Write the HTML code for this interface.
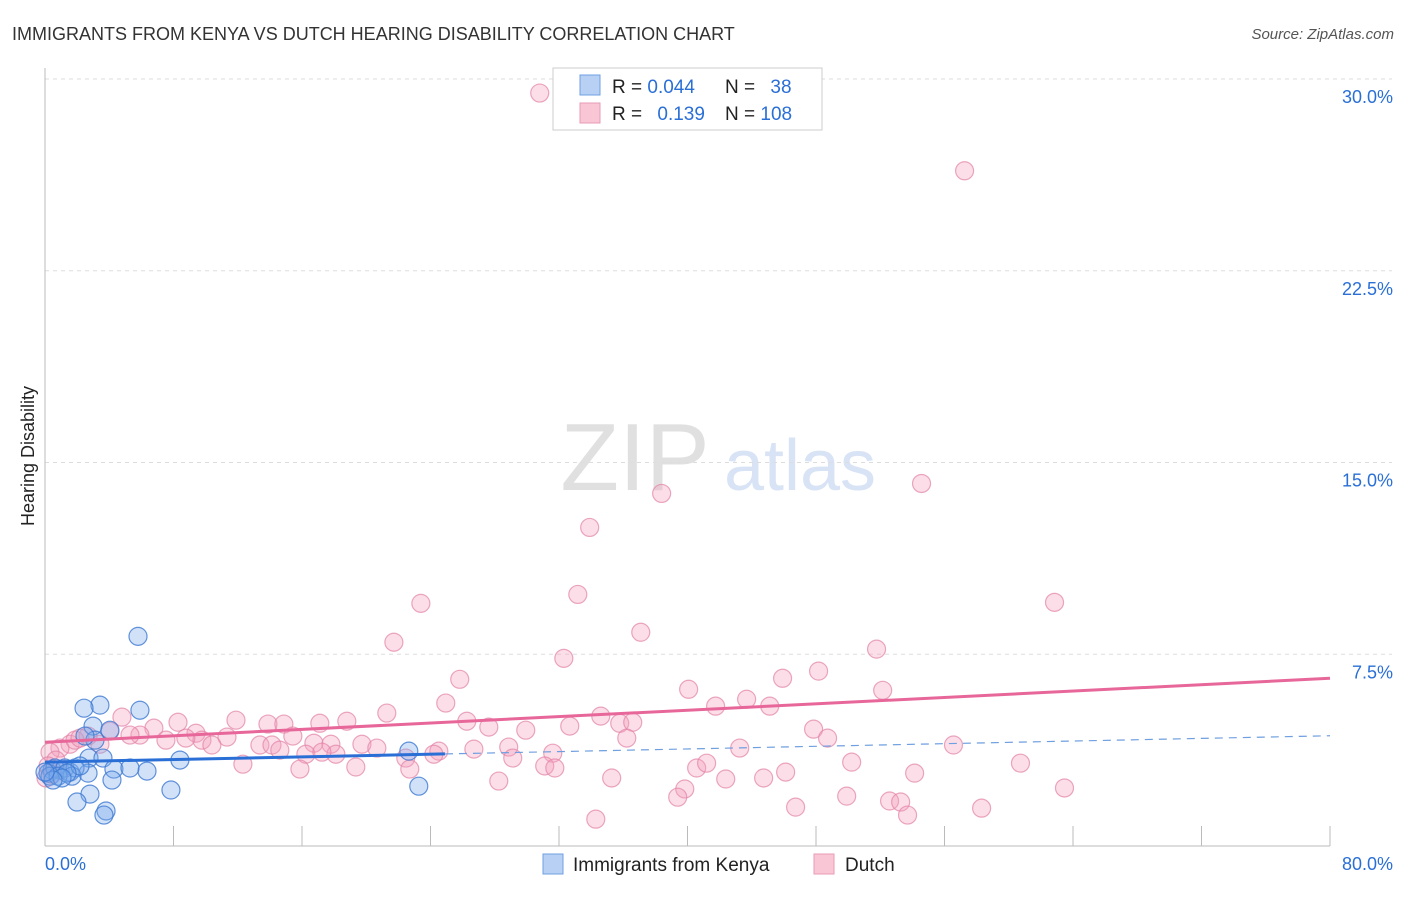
<!DOCTYPE html>
<html><head><meta charset="utf-8"><style>
body{margin:0;background:#fff;font-family:"Liberation Sans",sans-serif;}
svg text{font-family:"Liberation Sans",sans-serif;}
</style></head><body>
<svg id="chart" width="1406" height="892">
<text x="12" y="40" font-size="18" fill="#333">IMMIGRANTS FROM KENYA VS DUTCH HEARING DISABILITY CORRELATION CHART</text>
<text x="1394" y="39" font-size="15" fill="#555" font-style="italic" text-anchor="end">Source: ZipAtlas.com</text>
<g opacity="0.45">
<text x="635" y="490" font-size="96" font-family="Liberation Serif" fill="#bbb" text-anchor="middle">ZIP</text>
<text x="800" y="490" font-size="72" fill="#a9c4ea" text-anchor="middle">atlas</text>
</g>
<g id="grid"></g><g id="axes"></g><g id="points"></g><g id="trends"></g>
<text transform="translate(34,456) rotate(-90)" font-size="18" fill="#222" text-anchor="middle">Hearing Disability</text>
<g>
<rect x="553" y="68" width="269" height="62" fill="#fff" stroke="#ccc"/>
<rect x="580" y="75" width="20" height="20" fill="#b7d0f3" stroke="#6f9fe0"/>
<rect x="580" y="103" width="20" height="20" fill="#f9c6d6" stroke="#e89ab4"/>
<text x="612" y="93" font-size="19" fill="#222">R = <tspan fill="#2a6fd6">0.044</tspan></text>
<text x="725" y="93" font-size="19" fill="#222">N = <tspan fill="#2a6fd6" dx="10">38</tspan></text>
<text x="612" y="120" font-size="19" fill="#222">R = <tspan fill="#2a6fd6" dx="10">0.139</tspan></text>
<text x="725" y="120" font-size="19" fill="#222">N = <tspan fill="#2a6fd6">108</tspan></text>
</g>
<g>
<rect x="543" y="854" width="20" height="20" fill="#b7d0f3" stroke="#6f9fe0"/>
<text x="573" y="871" font-size="19" fill="#222">Immigrants from Kenya</text>
<rect x="814" y="854" width="20" height="20" fill="#f9c6d6" stroke="#e89ab4"/>
<text x="845" y="871" font-size="19" fill="#222">Dutch</text>
</g>
</svg>
<script>
const yTicks=[7.5,15,22.5,30];
const yTickLabels=["7.5%","15.0%","22.5%","30.0%"];
const xTicks=[0,8,16,24,32,40,48,56,64,72,80];
const xEndLabels=["0.0%","80.0%"];
const kenyaX=[5.79,3.42,2.43,5.91,2.99,4.04,3.11,2.49,2.74,3.61,8.40,6.35,4.29,2.68,0.93,1.56,0.44,0.19,0.62,1.24,1.87,4.17,7.84,2.80,1.99,3.80,3.67,23.27,22.65,1.68,0.31,0.81,2.18,1.37,1.06,0.50,0.0,5.29];
const kenyaY=[8.20,5.51,5.39,5.31,4.69,4.53,4.14,4.30,3.44,3.44,3.36,2.93,3.01,2.85,2.97,2.89,2.97,2.85,3.05,3.05,3.05,2.58,2.19,2.03,1.72,1.37,1.21,2.34,3.71,2.73,2.73,2.73,3.13,2.85,2.66,2.58,2.89,3.05];
const dutchX=[30.80,57.25,38.39,33.91,54.57,33.17,23.40,62.85,37.09,21.72,32.30,51.77,48.16,25.82,40.07,45.92,52.15,24.95,43.68,41.75,45.12,34.60,21.28,26.26,27.63,32.67,35.78,36.59,47.85,48.72,11.89,13.88,14.87,17.11,18.79,4.79,8.28,6.78,4.04,2.68,5.91,9.40,9.77,7.53,11.33,10.39,8.77,13.38,14.13,15.43,16.74,17.80,19.73,20.66,24.52,26.70,28.87,29.93,29.12,31.61,36.22,43.25,56.56,60.73,24.21,22.46,18.11,16.24,17.24,14.62,12.32,15.87,19.35,22.71,31.11,31.74,35.28,40.57,41.19,42.38,44.74,46.11,50.22,54.14,63.47,28.25,39.83,39.39,49.91,46.73,52.58,53.27,53.70,58.31,34.29,1.56,0.93,0.31,1.87,2.18,0.68,0.19,0.06,3.42,5.29,0.44];
const dutchY=[29.45,26.41,13.79,12.46,14.18,9.84,9.49,9.53,8.36,7.97,7.34,7.70,6.84,6.52,6.13,6.56,6.09,5.59,5.74,5.47,5.47,5.08,5.20,4.88,4.65,4.69,4.80,4.84,4.57,4.22,4.92,4.77,4.77,4.80,4.88,5.04,4.84,4.61,4.49,4.30,4.34,4.41,4.14,4.14,4.26,3.95,4.22,3.95,3.95,4.30,4.02,3.98,3.98,3.83,3.71,3.79,3.87,4.53,3.44,3.63,4.22,3.83,3.95,3.24,3.59,3.44,3.59,3.59,3.67,3.75,3.20,3.01,3.09,3.01,3.13,3.05,2.66,3.05,3.24,2.62,2.66,2.89,3.28,2.85,2.27,2.54,2.23,1.91,1.95,1.52,1.76,1.72,1.21,1.48,1.05,3.98,3.83,3.67,4.14,4.22,3.36,3.13,2.66,3.98,4.34,2.81];
const kenyaTrend=[3.28,0.0129]; // intercept, slope
const kenyaSolidEnd=[24.9];
const dutchTrend=[4.06,0.03125];
const NS="http://www.w3.org/2000/svg";
const X0=45,X1=1330,Y0=846,Y30=79;
function sx(v){return X0+v/80*(X1-X0);}
function sy(v){return Y0-v/30*(Y0-Y30);}
function mk(tag,attrs,parent){const e=document.createElementNS(NS,tag);for(const k in attrs)e.setAttribute(k,attrs[k]);parent.appendChild(e);return e;}
const grid=document.getElementById('grid'),axes=document.getElementById('axes'),pts=document.getElementById('points'),tr=document.getElementById('trends');
yTicks.forEach((t,i)=>{
 const l=mk('line',{x1:X0,x2:1392,y1:sy(t),y2:sy(t),stroke:'#ddd','stroke-dasharray':'4,4'},grid);
 
 
 const tx=mk('text',{x:1393,y:sy(t)+24,'font-size':18,fill:'#2a6fd6','text-anchor':'end'},grid);
 tx.textContent=yTickLabels[i];
 
 
});
const ax=mk('line',{x1:X0,x2:X0,y1:68,y2:Y0,stroke:'#bbb'},axes);


const bx=mk('line',{x1:X0,x2:X1,y1:Y0,y2:Y0,stroke:'#bbb'},axes);


xTicks.forEach(t=>{const l=mk('line',{x1:sx(t),x2:sx(t),y1:826,y2:Y0,stroke:'#bbb'},axes);
 
 });
const xl0=mk('text',{x:45,y:870,'font-size':18,fill:'#2a6fd6'},axes);xl0.textContent=xEndLabels[0];


const xl1=mk('text',{x:1393,y:870,'font-size':18,fill:'#2a6fd6','text-anchor':'end'},axes);xl1.textContent=xEndLabels[1];


dutchX.forEach((x,i)=>{const c=mk('circle',{cx:sx(x),cy:sy(dutchY[i]),r:9,fill:'rgba(244,160,190,0.35)',stroke:'rgba(226,130,165,0.7)','stroke-width':1.2},pts);
 
 });
kenyaX.forEach((x,i)=>{const c=mk('circle',{cx:sx(x),cy:sy(kenyaY[i]),r:9,fill:'rgba(120,170,235,0.35)',stroke:'rgba(60,120,210,0.8)','stroke-width':1.2},pts);
 
 });
const ke=kenyaSolidEnd[0];
const k1=mk('line',{x1:sx(0),y1:sy(kenyaTrend[0]),x2:sx(ke),y2:sy(kenyaTrend[0]+kenyaTrend[1]*ke),stroke:'#2a6fd6','stroke-width':3},tr);


const k2=mk('line',{x1:sx(ke),y1:sy(kenyaTrend[0]+kenyaTrend[1]*ke),x2:sx(80),y2:sy(kenyaTrend[0]+kenyaTrend[1]*80),stroke:'#6f9fe0','stroke-width':1.2,'stroke-dasharray':'8,6'},tr);


const d1=mk('line',{x1:sx(0),y1:sy(dutchTrend[0]),x2:sx(80),y2:sy(dutchTrend[0]+dutchTrend[1]*80),stroke:'#e8679a','stroke-width':3},tr);


</script>
</body></html>
